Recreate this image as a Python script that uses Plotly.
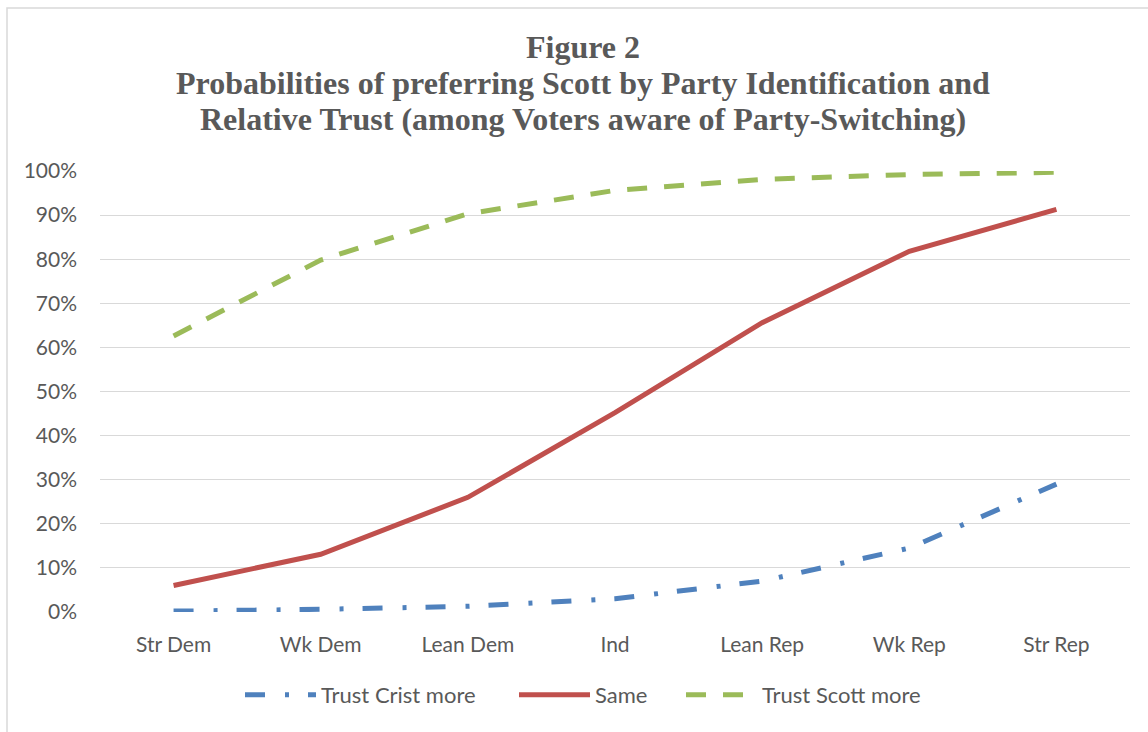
import plotly.graph_objects as go

categories = ["Str Dem", "Wk Dem", "Lean Dem", "Ind", "Lean Rep", "Wk Rep", "Str Rep"]
trust_crist = [0.002, 0.006, 0.013, 0.030, 0.070, 0.145, 0.290]
same = [0.060, 0.131, 0.260, 0.452, 0.656, 0.818, 0.913]
trust_scott = [0.626, 0.798, 0.903, 0.956, 0.981, 0.992, 0.997]
y_ticks = [0, 0.1, 0.2, 0.3, 0.4, 0.5, 0.6, 0.7, 0.8, 0.9, 1.0]
y_tick_labels = ["0%", "10%", "20%", "30%", "40%", "50%", "60%", "70%", "80%", "90%", "100%"]
title_lines = ["Figure 2",
               "Probabilities of preferring Scott by Party Identification and",
               "Relative Trust (among Voters aware of Party-Switching)"]

fig = go.Figure()
fig.add_trace(go.Scatter(x=categories, y=trust_crist, mode="lines", name="Trust Crist more",
                         legend="legend",
                         line=dict(color="#4F81BD", width=5, dash="20px,20px,4px,19px")))
fig.add_trace(go.Scatter(x=categories, y=same, mode="lines", name="Same",
                         legend="legend2",
                         line=dict(color="#C0504D", width=5)))
fig.add_trace(go.Scatter(x=categories, y=trust_scott, mode="lines", name="Trust Scott more",
                         legend="legend3",
                         line=dict(color="#9BBB59", width=5, dash="20px,17px")))

L, R, T, B = 100, 18, 171, 120
PW = 1148 - L - R
PH = 732 - T - B


def leg(px_left):
    return dict(orientation="h", x=(px_left - L) / PW, xanchor="left", y=-0.1405, yanchor="top",
                font=dict(family="Lato", size=22, color="#595959"),
                itemwidth=71, bgcolor="rgba(0,0,0,0)")


fig.update_layout(
    width=1148, height=732,
    margin=dict(l=L, r=R, t=T, b=B),
    paper_bgcolor="white", plot_bgcolor="white",
    xaxis=dict(showgrid=False, showline=False, ticks="", zeroline=False,
               ticklabelstandoff=18,
               tickfont=dict(family="Lato", size=21, color="#595959"),
               range=[-0.5, 6.5]),
    yaxis=dict(range=[0, 1.0], tickvals=y_ticks, ticktext=y_tick_labels,
               showgrid=True, gridcolor="#D9D9D9", gridwidth=1.3, zeroline=False,
               showline=False, ticks="", ticklabelstandoff=22,
               tickfont=dict(family="Lato", size=21, color="#595959")),
    legend=leg(240),
    legend2=leg(514),
    legend3=leg(681),
    showlegend=True,
)
title_y = [47, 83, 119]
for txt, yp in zip(title_lines, title_y):
    fig.add_annotation(text="<b>" + txt + "</b>", xref="paper", yref="paper",
                       x=(583 - L) / PW, y=1 + (T - yp) / PH,
                       xanchor="center", yanchor="middle", showarrow=False,
                       font=dict(family="Liberation Serif", size=32, color="#595959"))
fig.add_shape(type="rect", xref="paper", yref="paper",
              x0=(7 - L) / PW, x1=1.2, y0=-0.5, y1=1 + (T - 8) / PH,
              line=dict(color="#D9D9D9", width=1.5), fillcolor="rgba(0,0,0,0)", layer="below")

fig.write_html("out.html")
